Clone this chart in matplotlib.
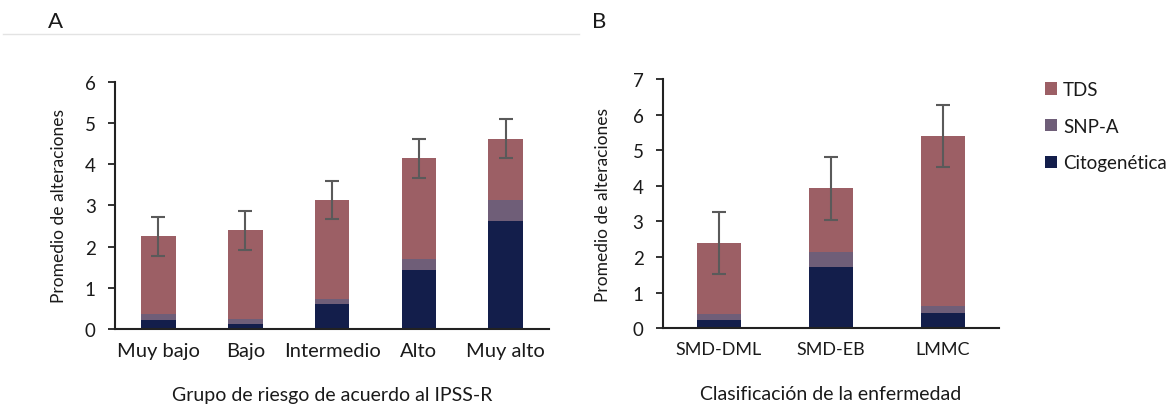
import matplotlib
matplotlib.use("Agg")
import matplotlib.pyplot as plt
from matplotlib.lines import Line2D
from matplotlib.patches import Patch
import numpy as np

plt.rcParams['font.family'] = ['Lato', 'DejaVu Sans']

# Panel A: IPSS-R risk groups
groups_a = ["Muy bajo", "Bajo", "Intermedio", "Alto", "Muy alto"]
cyto_a = [0.23, 0.11, 0.61, 1.43, 2.62]
snp_a = [0.13, 0.14, 0.12, 0.28, 0.50]
tds_a = [1.89, 2.14, 2.40, 2.43, 1.50]
err_a = [0.47, 0.48, 0.47, 0.48, 0.48]

# Panel B: disease classification
groups_b = ["SMD-DML", "SMD-EB", "LMMC"]
cyto_b = [0.24, 1.71, 0.42]
snp_b = [0.15, 0.42, 0.20]
tds_b = [2.00, 1.80, 4.78]
err_b = [0.87, 0.88, 0.87]

series_names = ["TDS", "SNP-A", "Citogenética"]
c_tds = "#9c5f65"
c_snp = "#6f5e78"
c_cyto = "#131e4b"
c_err = "#5a5a5a"
c_text = "#1a1a1a"

fig = plt.figure(figsize=(11.68, 4.10), dpi=100)


def stacked(ax, cats, cyto, snp, tds, err, ymax, tick_fs, label_x):
    x = np.arange(len(cats))
    cyto = np.array(cyto)
    snp = np.array(snp)
    tds = np.array(tds)
    w = 0.4
    ax.bar(x, cyto, w, color=c_cyto, zorder=2)
    ax.bar(x, snp, w, bottom=cyto, color=c_snp, zorder=2)
    ax.bar(x, tds, w, bottom=cyto + snp, color=c_tds, zorder=2)
    total = cyto + snp + tds
    ax.errorbar(x, total, yerr=err, fmt="none", ecolor=c_err, elinewidth=1.5,
                capsize=5, capthick=1.5, zorder=3)
    ax.set_xlim(-0.5, len(cats) - 0.5)
    ax.set_ylim(0, ymax)
    ax.set_yticks(range(0, ymax + 1))
    ax.set_xticks(x)
    ax.set_xticklabels(cats, fontsize=tick_fs, color=c_text)
    ax.tick_params(axis="x", length=0, pad=9)
    ax.tick_params(axis="y", length=5, width=1.3, labelsize=13.5,
                   labelcolor=c_text, pad=9, color="#222222")
    for s in ("top", "right"):
        ax.spines[s].set_visible(False)
    for s in ("left", "bottom"):
        ax.spines[s].set_linewidth(1.5)
        ax.spines[s].set_color("#222222")
    ax.set_ylabel("Promedio de alteraciones", fontsize=12.5, color=c_text)
    ax.yaxis.set_label_coords(label_x, 0.5)


ax_a = fig.add_axes([0.0985, 0.1951, 0.3716, 0.6032])
stacked(ax_a, groups_a, cyto_a, snp_a, tds_a, err_a, 6, 14.5, -0.11)
ax_a.set_xlabel("Grupo de riesgo de acuerdo al IPSS-R", fontsize=14,
                color=c_text, labelpad=20)

ax_b = fig.add_axes([0.5676, 0.1968, 0.2877, 0.6080])
stacked(ax_b, groups_b, cyto_b, snp_b, tds_b, err_b, 7, 13, -0.155)
ax_b.set_xlabel("Clasificación de la enfermedad", fontsize=14,
                color=c_text, labelpad=20)

# Panel letters and divider
fig.text(56 / 1168, 1 - 22 / 410, "A", fontsize=16, ha="center", va="center",
         color=c_text)
fig.text(599 / 1168, 1 - 22 / 410, "B", fontsize=16, ha="center", va="center",
         color=c_text)
fig.add_artist(Line2D([3 / 1168, 579 / 1168], [1 - 35 / 410, 1 - 35 / 410],
                      color="#e3e3e3", linewidth=1.0))

handles = [Patch(facecolor=c_tds), Patch(facecolor=c_snp), Patch(facecolor=c_cyto)]
fig.legend(handles, series_names, loc="upper left",
           bbox_to_anchor=(1032 / 1168, 1 - 69 / 410), frameon=False,
           fontsize=13.5, handlelength=0.65, handleheight=0.65,
           handletextpad=0.3, labelspacing=1.05, labelcolor=c_text,
           borderaxespad=0.3)

fig.savefig("out.png", dpi=100, facecolor="white")
